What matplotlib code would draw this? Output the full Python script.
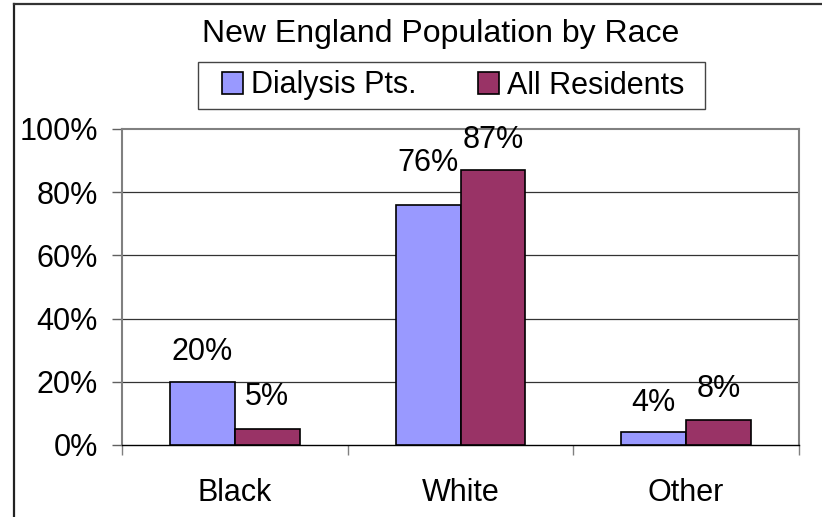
import numpy as np
import matplotlib
matplotlib.use('Agg')
import matplotlib.pyplot as plt
from matplotlib.lines import Line2D
from matplotlib.patches import Rectangle
from matplotlib.ticker import FixedLocator

plt.rcParams['font.family'] = ['Liberation Sans', 'DejaVu Sans']

categories = ['Black', 'White', 'Other']
dialysis = [20, 76, 4]
residents = [5, 87, 8]
series_names = ['Dialysis Pts.', 'All Residents']
yticks = [0, 20, 40, 60, 80, 100]
ytick_labels = ['0%', '20%', '40%', '60%', '80%', '100%']

fig = plt.figure(figsize=(8.22, 5.17), dpi=100)
ax = fig.add_axes([122/822, 1 - 445/517, (799-122)/822, (445-129)/517])

x = np.arange(len(categories))
w = 0.288
b1 = ax.bar(x - w/2, dialysis, w, color='#9999FF', edgecolor='black', linewidth=1.2,
            label=series_names[0], zorder=3)
b2 = ax.bar(x + w/2, residents, w, color='#993366', edgecolor='black', linewidth=1.2,
            label=series_names[1], zorder=3)

# data labels (76% sits higher, as in the original)
pads1 = [10.5, 19, 10]
pads2 = [12.5, 11, 11]
for bars, vals, pads in [(b1, dialysis, pads1), (b2, residents, pads2)]:
    for r, v, p in zip(bars, vals, pads):
        ax.annotate('%d%%' % v, (r.get_x() + r.get_width()/2, v), xytext=(0, p),
                    textcoords='offset points', ha='center', va='bottom', fontsize=22)

ax.set_xlim(-0.5, 2.5)
ax.set_ylim(0, 100)
ax.set_yticks(yticks)
ax.set_yticklabels(ytick_labels)
ax.set_xticks(x)
ax.set_xticklabels(categories)
ax.xaxis.set_minor_locator(FixedLocator([-0.5, 0.5, 1.5, 2.5]))
ax.tick_params(axis='x', which='major', length=0, labelsize=22, pad=24)
ax.tick_params(axis='x', which='minor', length=7.5, direction='out', color='#808080', width=1)
ax.tick_params(axis='y', length=7.5, direction='out', color='#606060', width=1, labelsize=22, pad=10)

for yv in yticks[1:-1]:
    ax.axhline(yv, color='#333333', linewidth=0.9, zorder=1)

for s in ['top', 'right', 'left']:
    ax.spines[s].set_color('#808080')
    ax.spines[s].set_linewidth(1.5)
ax.spines['bottom'].set_color('black')
ax.spines['bottom'].set_linewidth(1.0)

fig.text(441/822, 1 - 42/517, 'New England Population by Race', ha='center', va='baseline',
         fontsize=23)

leg = fig.legend(loc='center', bbox_to_anchor=(453/822, 1 - 85.5/517), ncol=2, fontsize=22,
                 handlelength=0.7, handleheight=0.7, handletextpad=0.25, columnspacing=2.0,
                 borderpad=0.3, frameon=False, borderaxespad=0)
# legend box
fig.add_artist(Rectangle((198/822, 1 - 109/517), (705-198)/822, 47/517, transform=fig.transFigure,
                         facecolor='none', edgecolor='#444444', linewidth=1.0))

# outer chart border (left and top visible)
fig.add_artist(Line2D([13.5/822, 13.5/822], [0, 1 - 4/517], transform=fig.transFigure,
                      color='#222222', linewidth=1.6))
fig.add_artist(Line2D([13.5/822, 1], [1 - 4/517, 1 - 4/517], transform=fig.transFigure,
                      color='#333333', linewidth=1.6))

fig.savefig('out.png', dpi=100)
